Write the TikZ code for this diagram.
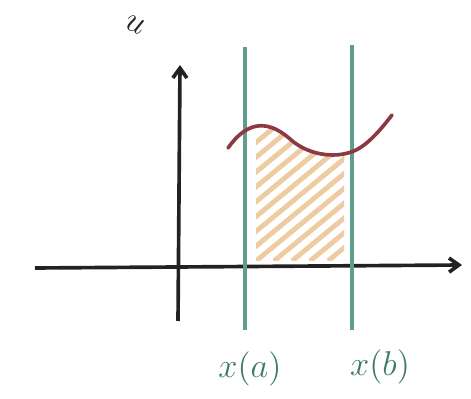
\documentclass[tikz,border=0pt]{standalone}
\usepackage{xcolor}
\usepackage{tikz}
\usetikzlibrary{arrows.meta}
\definecolor{axisc}{HTML}{222222}
\definecolor{bound}{HTML}{5E9E8C}
\definecolor{curvec}{HTML}{8A3A40}
\definecolor{hatchc}{HTML}{EFCBA4}
\definecolor{labelc}{HTML}{3F7A66}
\begin{document}
\begin{tikzpicture}[x=0.025cm, y=0.025cm, >={Straight Barb[length=7pt,width=10pt]},
  every node/.style={font=\Large, scale=1.7}]
  \useasboundingbox (0,0) rectangle (471,399);
  % hatched area between the bounds
  \begin{scope}
    \clip (256,138) -- (256,268) .. controls (270,278) and (280,272) .. (290,260)
      .. controls (305,247) and (325,243) .. (344,246) -- (344,138) -- cycle;
    \foreach \i in {-12,...,6} {
      \draw[hatchc, line width=3.5pt] ({256+\i*18},138) -- ++(170,140);
    }
  \end{scope}
  % axes
  \draw[axisc, line width=2.6pt, ->] (35,131) -- (462,134);
  \draw[axisc, line width=2.6pt, ->] (178,78) -- (180,334);
  % bounds
  \draw[bound, line width=3pt] (245,69) -- (245,352);
  \draw[bound, line width=3pt] (352,69) -- (352,354);
  % function curve
  \draw[curvec, line width=2.6pt, line cap=round]
    (228,251) .. controls (245,275) and (265,282) .. (290,260)
    .. controls (310,242) and (340,240) .. (358,250)
    .. controls (372,258) and (385,275) .. (392,284);
  % labels
  \node[axisc, rotate=-25] (ulab) at (135,374) {$u$};
  \node[labelc] (xa) at (250,30) {$x(a)$};
  \node[labelc] (xb) at (380,32) {$x(b)$};
\end{tikzpicture}
\end{document}
